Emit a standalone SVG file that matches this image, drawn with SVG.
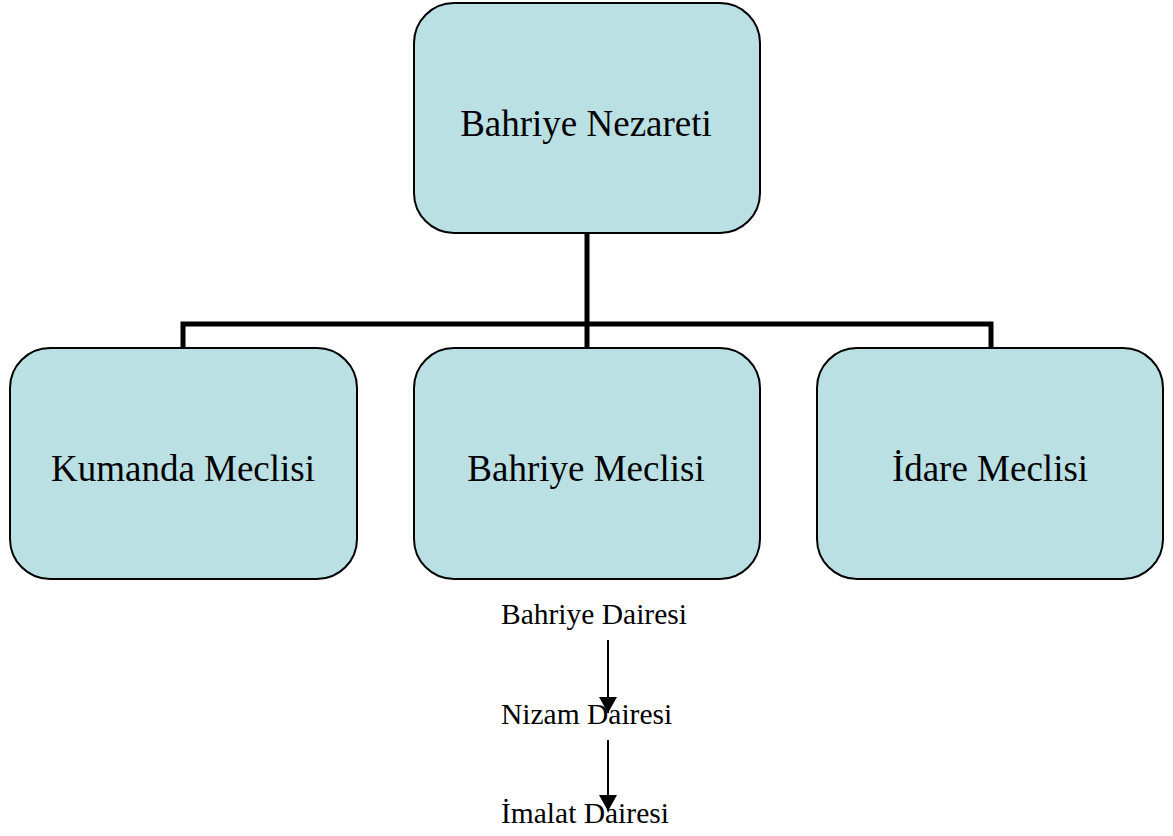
<svg xmlns="http://www.w3.org/2000/svg" width="1173" height="836" viewBox="0 0 1173 836">
<defs>
<style>
.box{fill:#BAE0E3;stroke:#000;stroke-width:2}
.big{font-family:"Liberation Serif","Times New Roman",serif;font-size:37px;fill:#000;text-anchor:middle}
.small{font-family:"Liberation Serif","Times New Roman",serif;font-size:29.5px;fill:#000}
.conn{fill:none;stroke:#000;stroke-width:5}
.arr{fill:none;stroke:#000;stroke-width:2}
</style>
<marker id="ah2" viewBox="0 0 16 18" refX="16" refY="9" markerWidth="16" markerHeight="18" markerUnits="userSpaceOnUse" orient="auto">
<path d="M0,0 L16,9 L0,18 z" fill="#000"/>
</marker>
</defs>
<rect width="1173" height="836" fill="#fff"/>
<g id="connectors">
<path class="conn" d="M587,233 V348"/>
<path class="conn" d="M183,348 V324 H991 V348"/>
<path class="arr" d="M608,640 V713" marker-end="url(#ah2)"/>
<path class="arr" d="M608,740 V811" marker-end="url(#ah2)"/>
</g>
<g id="bahriye-nezareti">
<rect class="box" x="414" y="3" width="346" height="230" rx="40"/>
<text class="big" x="586" y="136">Bahriye Nezareti</text>
</g>
<g id="kumanda-meclisi">
<rect class="box" x="10" y="348" width="347" height="231" rx="40"/>
<text class="big" x="183" y="481">Kumanda Meclisi</text>
</g>
<g id="bahriye-meclisi">
<rect class="box" x="414" y="348" width="346" height="231" rx="40"/>
<text class="big" x="586" y="481">Bahriye Meclisi</text>
</g>
<g id="idare-meclisi">
<rect class="box" x="817" y="348" width="346" height="231" rx="40"/>
<text class="big" x="990" y="481">İdare Meclisi</text>
</g>
<g id="bahriye-dairesi"><text class="small" x="501" y="624">Bahriye Dairesi</text></g>
<g id="nizam-dairesi"><text class="small" x="501" y="724">Nizam Dairesi</text></g>
<g id="imalat-dairesi"><text class="small" x="501" y="823">İmalat Dairesi</text></g>
</svg>
